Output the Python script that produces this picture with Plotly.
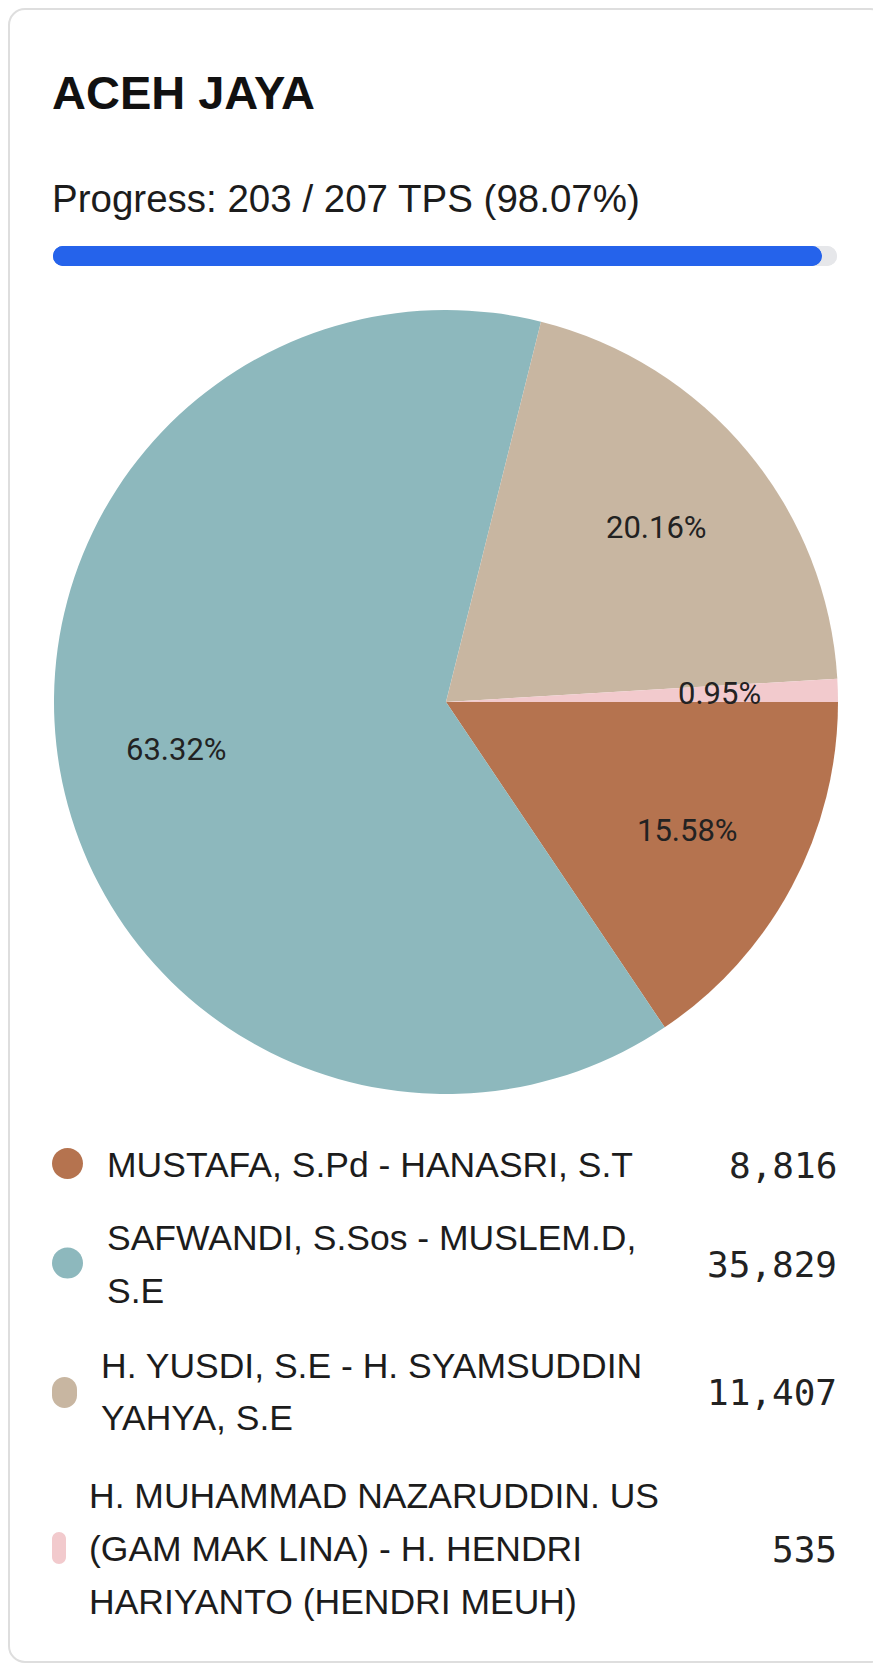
import math
import textwrap
import plotly.graph_objects as go

# ---------------- data ----------------
region = "ACEH JAYA"
tps_done = 203
tps_total = 207
candidates = [
    "MUSTAFA, S.Pd - HANASRI, S.T",
    "SAFWANDI, S.Sos - MUSLEM.D, S.E",
    "H. YUSDI, S.E - H. SYAMSUDDIN YAHYA, S.E",
    "H. MUHAMMAD NAZARUDDIN. US (GAM MAK LINA) - H. HENDRI HARIYANTO (HENDRI MEUH)",
]
votes = [8816, 35829, 11407, 535]
colors = ["#B5734F", "#8DB8BD", "#C8B6A1", "#F2CACD"]

# ---------------- layout helpers ----------------
W, H = 873, 1666


def px(x):
    return x / W


def py(y):
    return 1 - y / H


def rrect_path(x0, y0, x1, y1, r):
    """Rounded rectangle path in paper coords from pixel coords."""
    k = 0.5523 * r
    pts = [
        f"M {px(x0 + r)},{py(y0)}",
        f"L {px(x1 - r)},{py(y0)}",
        f"C {px(x1 - r + k)},{py(y0)} {px(x1)},{py(y0 + r - k)} {px(x1)},{py(y0 + r)}",
        f"L {px(x1)},{py(y1 - r)}",
        f"C {px(x1)},{py(y1 - r + k)} {px(x1 - r + k)},{py(y1)} {px(x1 - r)},{py(y1)}",
        f"L {px(x0 + r)},{py(y1)}",
        f"C {px(x0 + r - k)},{py(y1)} {px(x0)},{py(y1 - r + k)} {px(x0)},{py(y1 - r)}",
        f"L {px(x0)},{py(y0 + r)}",
        f"C {px(x0)},{py(y0 + r - k)} {px(x0 + r - k)},{py(y0)} {px(x0 + r)},{py(y0)}",
        "Z",
    ]
    return " ".join(pts)


TEXT_FONT = "Liberation Sans, Arial, sans-serif"
TEXT_COLOR = "#1c1c1c"

fig = go.Figure()

# ---------------- pie ----------------
CX, CY, R = 446, 702, 392
fig.add_trace(go.Pie(
    labels=candidates,
    values=votes,
    marker=dict(colors=colors, line=dict(width=0)),
    sort=False,
    direction="clockwise",
    rotation=90,
    textinfo="none",
    hoverinfo="label+value+percent",
    showlegend=False,
    domain=dict(x=[px(CX - R), px(CX + R)], y=[py(CY + R), py(CY - R)]),
))

annotations = []
total = sum(votes)
cum = 0.0
for v in votes:
    frac = v / total
    mid = (cum + frac / 2) * 2 * math.pi  # clockwise from 3 o'clock
    cum += frac
    lx = CX + 0.697 * R * math.cos(mid)
    ly = CY + 0.697 * R * math.sin(mid)
    annotations.append(dict(
        x=px(lx), y=py(ly), xref="paper", yref="paper",
        text=f"{frac * 100:.2f}%", showarrow=False,
        xanchor="center", yanchor="middle",
        font=dict(family="Roboto, sans-serif", size=31, color="#222222"),
    ))

# ---------------- progress bar ----------------
BAR_X0, BAR_X1, BAR_Y0, BAR_Y1 = 53, 837, 246, 266
track = "#E6E7EA"
blue = "#2563EB"
for base, val, col in [(0, tps_total, track), (tps_total, -tps_total, track),
                       (0, tps_done, blue), (tps_done, -tps_done, blue)]:
    fig.add_trace(go.Bar(
        x=[val], y=[0], base=[base], orientation="h", width=1,
        marker=dict(color=col, cornerradius=10, line=dict(width=0)),
        showlegend=False, hoverinfo="skip",
    ))

fig.update_layout(
    barmode="overlay",
    xaxis=dict(domain=[px(BAR_X0), px(BAR_X1)], range=[0, tps_total],
               visible=False, fixedrange=True),
    yaxis=dict(domain=[py(BAR_Y1), py(BAR_Y0)], range=[-0.5, 0.5],
               visible=False, fixedrange=True),
)

# ---------------- header text ----------------
annotations.append(dict(
    x=px(50), y=py(92), xref="paper", yref="paper", text=f"<b>{region}</b>",
    showarrow=False, xanchor="left", yanchor="middle",
    font=dict(family=TEXT_FONT, size=47, color="#111111"),
))
pct = tps_done / tps_total * 100
annotations.append(dict(
    x=px(50), y=py(199), xref="paper", yref="paper",
    text=f"Progress: {tps_done} / {tps_total} TPS ({pct:.2f}%)",
    showarrow=False, xanchor="left", yanchor="middle",
    font=dict(family=TEXT_FONT, size=38.5, color=TEXT_COLOR),
))

# ---------------- custom legend ----------------
row_lines_y = [[1164], [1237, 1290], [1365, 1417], [1495, 1548, 1601]]
row_value_y = [1164, 1263, 1391, 1548]
row_text_x = [105, 105, 99, 87]
dot_geom = [(67.5, 1163.5, 31, 31), (67.5, 1263, 31, 31),
            (64.5, 1392.5, 25, 31), (59, 1548, 14, 32)]

shapes = []
# card
shapes.append(dict(type="path", xref="paper", yref="paper",
                   path=rrect_path(9, 9, 886, 1662, 16),
                   line=dict(color="#DEDEDE", width=2), fillcolor="rgba(0,0,0,0)",
                   layer="below"))

for i, (name, v, col) in enumerate(zip(candidates, votes, colors)):
    lines = textwrap.wrap(name, 29)
    for ln, yy in zip(lines, row_lines_y[i]):
        annotations.append(dict(
            x=px(row_text_x[i]), y=py(yy + 1), xref="paper", yref="paper", text=ln,
            showarrow=False, xanchor="left", yanchor="middle",
            font=dict(family=TEXT_FONT, size=35.5, color=TEXT_COLOR),
        ))
    annotations.append(dict(
        x=px(839), y=py(row_value_y[i] + 1), xref="paper", yref="paper",
        text=f"{v:,}", showarrow=False, xanchor="right", yanchor="middle",
        font=dict(family="DejaVu Sans Mono, monospace", size=36, color="#222222"),
    ))
    dcx, dcy, dw, dh = dot_geom[i]
    rr = min(dw, dh) / 2
    shapes.append(dict(type="path", xref="paper", yref="paper",
                       path=rrect_path(dcx - dw / 2, dcy - dh / 2, dcx + dw / 2, dcy + dh / 2, rr),
                       line=dict(width=0), fillcolor=col))

fig.update_layout(
    width=W, height=H,
    margin=dict(l=0, r=0, t=0, b=0),
    paper_bgcolor="white", plot_bgcolor="white",
    annotations=annotations,
    shapes=shapes,
    showlegend=False,
)

fig.write_html("out.html", config={"displayModeBar": False},
               post_script="document.body.style.margin='0';")
